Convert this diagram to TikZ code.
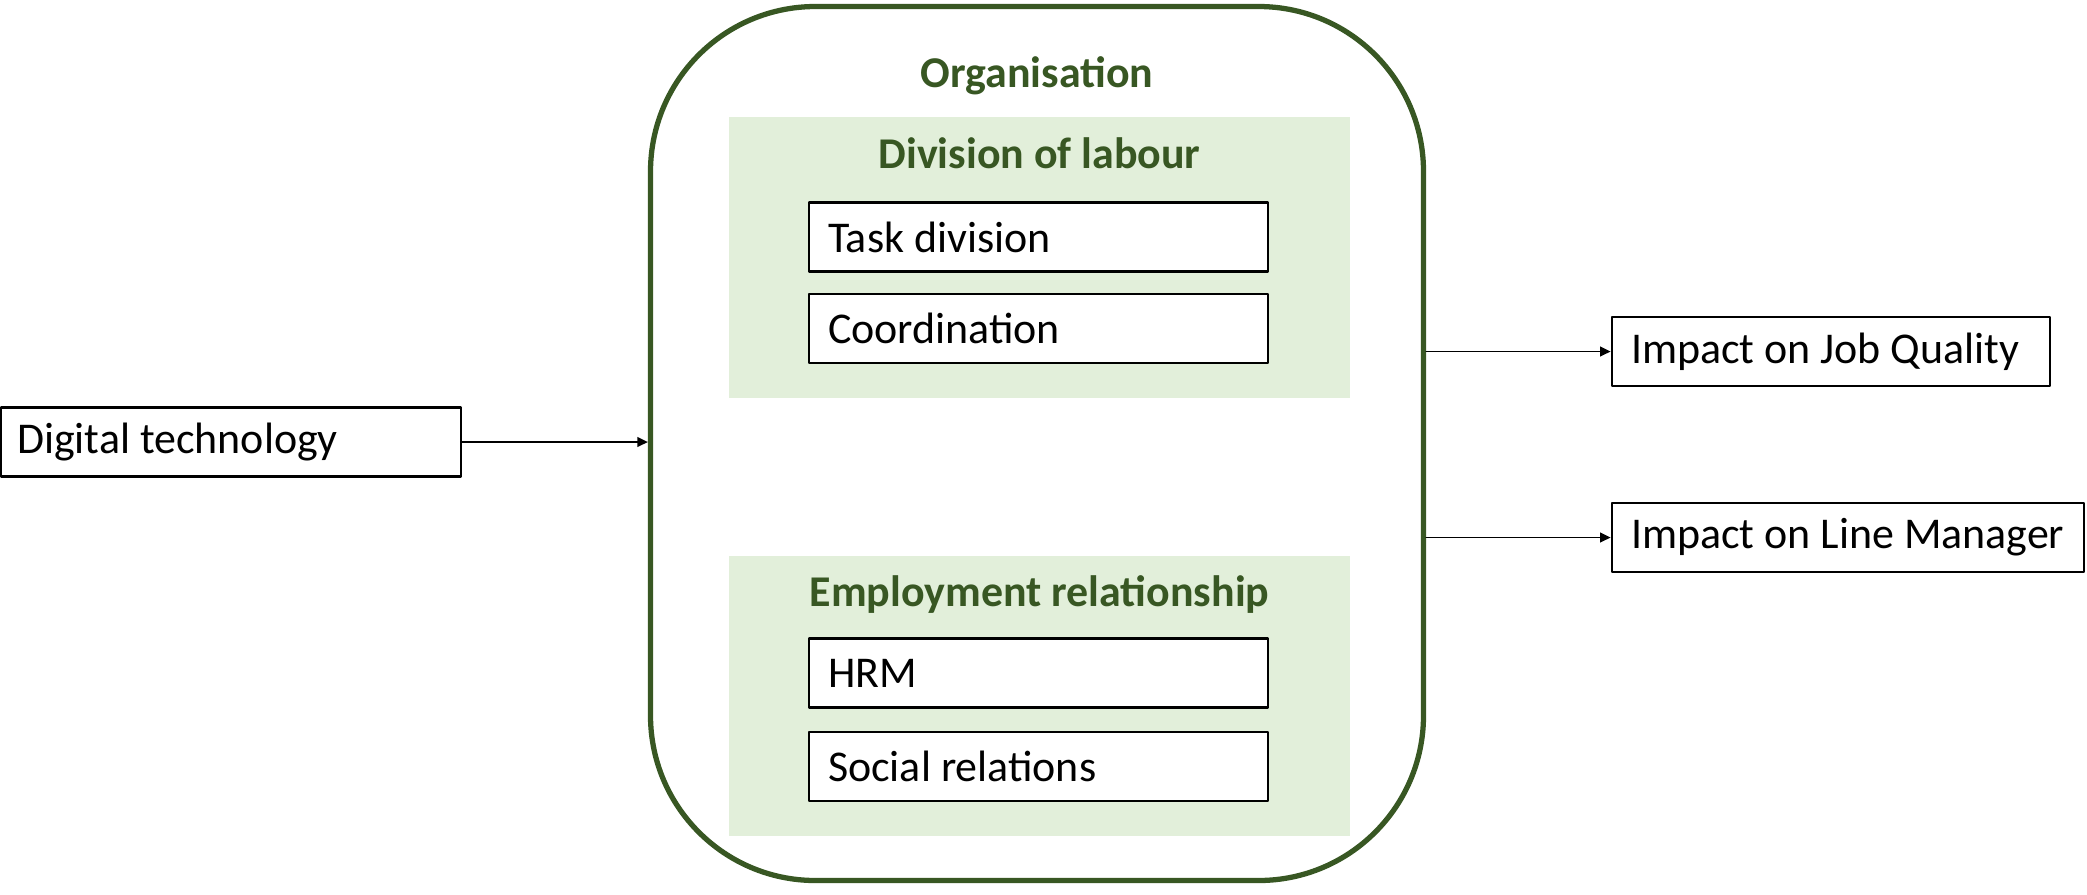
\documentclass[tikz,border=0pt]{standalone}
\usepackage{fontspec}
\setmainfont{Carlito}
\usetikzlibrary{arrows.meta,positioning,calc}
\definecolor{orggreen}{HTML}{385723}
\definecolor{palegreen}{HTML}{E2EFDA}
\tikzset{
  item/.style={draw=black,line width=0.8pt,fill=white,inner xsep=0.19cm,
               align=flush left,minimum height=0.69cm,font=\fontsize{12.5}{15}\selectfont,
               execute at begin node={\spaceskip=0pt\xspaceskip=0pt}},
  panel/.style={fill=palegreen,draw=none,minimum width=6.21cm,minimum height=2.81cm},
  head/.style={font=\fontsize{12.5}{15}\selectfont\bfseries,text=orggreen},
  link/.style={line width=0.45pt,-{Triangle[length=3pt,width=2.8pt]}},
  every picture/.style={line cap=round,line join=round}}

\begin{document}
\begin{tikzpicture}
  \useasboundingbox (0,0) rectangle (20.87,-8.94);
  % the organisation frame
  \node[draw=orggreen,line width=1.5pt,rounded corners=1.65cm,minimum width=7.73cm,
        minimum height=8.74cm] (org) at (10.37,-4.435){};
  \node[head] (orgt) at (10.37,-0.76){Organisation};
  % division of labour
  \node[panel] (div) at (10.395,-2.575){};
  \node[head] (divt) at (10.395,-1.53){Division of labour};
  \node[item,text width=4.21cm] (task) at (10.385,-2.37){Task division};
  \node[item,text width=4.21cm] (coord) at (10.385,-3.285){Coordination};
  % employment relationship
  \node[panel,minimum height=2.80cm] (emp) at (10.395,-6.96){};
  \node[head] (empt) at (10.395,-5.94){Employment relationship};
  \node[item,text width=4.21cm] (hrm) at (10.385,-6.73){HRM};
  \node[item,text width=4.21cm] (soc) at (10.385,-7.665){Social relations};
  % input and outcomes
  \node[item,text width=4.28cm,inner xsep=0.16cm] (dig) at (2.31,-4.42){Digital technology};
  \node[item,text width=4.0cm] (jobq) at (18.31,-3.515){Impact on Job Quality};
  \node[item,text width=4.34cm] (lman) at (18.48,-5.375){Impact on Line Manager};
  \draw[link] (dig.east) -- (dig.east -| org.west);
  \draw[link] (jobq.west -| org.east) -- (jobq.west);
  \draw[link] (lman.west -| org.east) -- (lman.west);
\end{tikzpicture}
\end{document}
